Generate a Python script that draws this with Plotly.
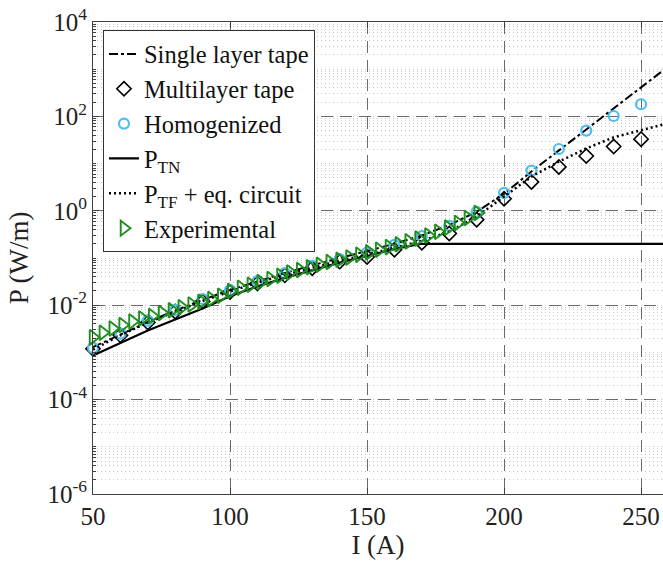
import plotly.graph_objects as go

# ---------------- data ----------------
I_grid = [50, 60, 70, 80, 90, 100, 110, 120, 130, 140, 150, 160, 170, 180, 190, 200, 210, 220, 230, 240, 250, 260]

single_layer = [1.3e-3, 2.4e-3, 4.4e-3, 7.7e-3, 0.013, 0.021, 0.032, 0.048, 0.07, 0.1, 0.14, 0.2, 0.3, 0.5, 0.95,
                2.3, 6.8, 19, 54, 150, 420, 1150]

multilayer = [1.2e-3, 2.3e-3, 4.3e-3, 7.3e-3, 0.012, 0.019, 0.029, 0.043, 0.061, 0.084, 0.105, 0.15, 0.21, 0.33, 0.65,
              1.8, 4.1, 8.5, 14.5, 23, 33, 44]

homogenized = [1.25e-3, 2.5e-3, 4.7e-3, 7.9e-3, 0.0135, 0.021, 0.032, 0.048, 0.068, 0.095, 0.13, 0.19, 0.29, 0.48, 0.95,
               2.4, 7.1, 20.4, 50, 102, 181, 257]

p_tn = [8.6e-4, 1.6e-3, 2.9e-3, 5.0e-3, 8.5e-3, 0.0155, 0.025, 0.038, 0.056, 0.08, 0.11, 0.155, 0.2, 0.2, 0.2,
        0.2, 0.2, 0.2, 0.2, 0.2, 0.2, 0.2]

p_tf = [1.15e-3, 2.3e-3, 4.3e-3, 7.4e-3, 0.0123, 0.0195, 0.03, 0.044, 0.063, 0.087, 0.118, 0.165, 0.23, 0.36, 0.75,
        2.0, 5.3, 11, 21, 36, 51, 72]

I_exp = [50.0, 53.6, 57.2, 60.8, 64.4, 68.0, 71.6, 75.2, 78.8, 82.4, 86.0, 89.6, 93.2, 96.8, 100.4, 104.0, 107.6,
         111.2, 114.8, 118.4, 122.0, 125.6, 129.2, 132.8, 136.4, 140.0, 143.6, 147.2, 150.8, 154.4, 158.0, 161.6,
         165.2, 168.8, 172.4, 176.0, 179.6, 183.2, 186.8, 190.4]
P_exp = [0.0021, 0.0026, 0.0032, 0.0038, 0.0045, 0.0052, 0.0059, 0.0068, 0.0078, 0.0090, 0.0103, 0.0118, 0.0136,
         0.0158, 0.020, 0.0235, 0.027, 0.031, 0.036, 0.042, 0.049, 0.056, 0.064, 0.072, 0.082, 0.092, 0.103, 0.117,
         0.132, 0.150, 0.170, 0.195, 0.225, 0.26, 0.30, 0.36, 0.44, 0.55, 0.70, 0.90]

x_ticks = [50, 100, 150, 200, 250]
y_ticks = [1e-6, 1e-4, 1e-2, 1e0, 1e2, 1e4]
y_ticktext = ["10<sup>-6</sup>", "10<sup>-4</sup>", "10<sup>-2</sup>", "10<sup>0</sup>", "10<sup>2</sup>", "10<sup>4</sup>"]

# ---------------- figure ----------------
FONT = "Liberation Serif, Times New Roman, serif"
fig = go.Figure()

fig.add_trace(go.Scatter(x=I_grid, y=single_layer, mode="lines", name="Single layer tape",
                         line=dict(color="black", width=2, dash="9px,3px,3px,3px")))
fig.add_trace(go.Scatter(x=I_grid, y=multilayer, mode="markers", name="Multilayer tape", cliponaxis=False,
                         marker=dict(symbol="diamond-open", size=11, color="black", line=dict(width=1.6))))
fig.add_trace(go.Scatter(x=I_grid, y=homogenized, mode="markers", name="Homogenized", cliponaxis=False,
                         marker=dict(symbol="circle-open", size=10, color="#4DBEEE", line=dict(width=2.2))))
fig.add_trace(go.Scatter(x=I_grid, y=p_tn, mode="lines", name="P<sub>TN</sub>",
                         line=dict(color="black", width=2.2)))
fig.add_trace(go.Scatter(x=I_grid, y=p_tf, mode="lines", name="P<sub>TF</sub> + eq. circuit",
                         line=dict(color="black", width=2.5, dash="2px,3px")))
fig.add_trace(go.Scatter(x=I_exp, y=P_exp, mode="markers", name="Experimental", cliponaxis=False,
                         marker=dict(symbol="triangle-right-open", size=13, color="#1f8f1f", line=dict(width=1.9))))

axis_col = "#404040"
fig.update_layout(
    width=663, height=566,
    margin=dict(l=93, r=0, t=22, b=72),
    paper_bgcolor="white", plot_bgcolor="white",
    font=dict(family=FONT, size=25, color="#222"),
    showlegend=True,
    legend=dict(x=0.0175, y=0.982, xanchor="left", yanchor="top",
                bgcolor="white", bordercolor="#333", borderwidth=1,
                font=dict(family=FONT, size=24.5, color="#111"), tracegroupgap=0,
                itemwidth=30),
    xaxis=dict(range=[50, 258], tickvals=x_ticks, ticks="inside", ticklen=6, tickcolor=axis_col,
               showline=True, linecolor=axis_col, linewidth=1, mirror="ticks",
               showgrid=True, gridcolor="#6a6a6a", gridwidth=1, griddash="12px,7px",
               zeroline=False,
               title=dict(text="I (A)", font=dict(size=27, family=FONT, color="#222"), standoff=4),
               tickfont=dict(size=25, family=FONT, color="#222")),
    yaxis=dict(type="log", range=[-6, 4], tickvals=y_ticks, ticktext=y_ticktext,
               ticks="inside", ticklen=6, tickcolor=axis_col,
               showline=True, linecolor=axis_col, linewidth=1, mirror=False,
               showgrid=True, gridcolor="#6a6a6a", gridwidth=1, griddash="12px,7px",
               zeroline=False,
               minor=dict(dtick="D1", ticks="inside", ticklen=3, tickcolor=axis_col,
                          showgrid=True, gridcolor="#c8c8c8", gridwidth=1, griddash="1px,3px"),
               title=dict(text="P (W/m)", font=dict(size=27, family=FONT, color="#222"), standoff=10),
               tickfont=dict(size=25, family=FONT, color="#222")),
)

fig.write_html("out.html")
